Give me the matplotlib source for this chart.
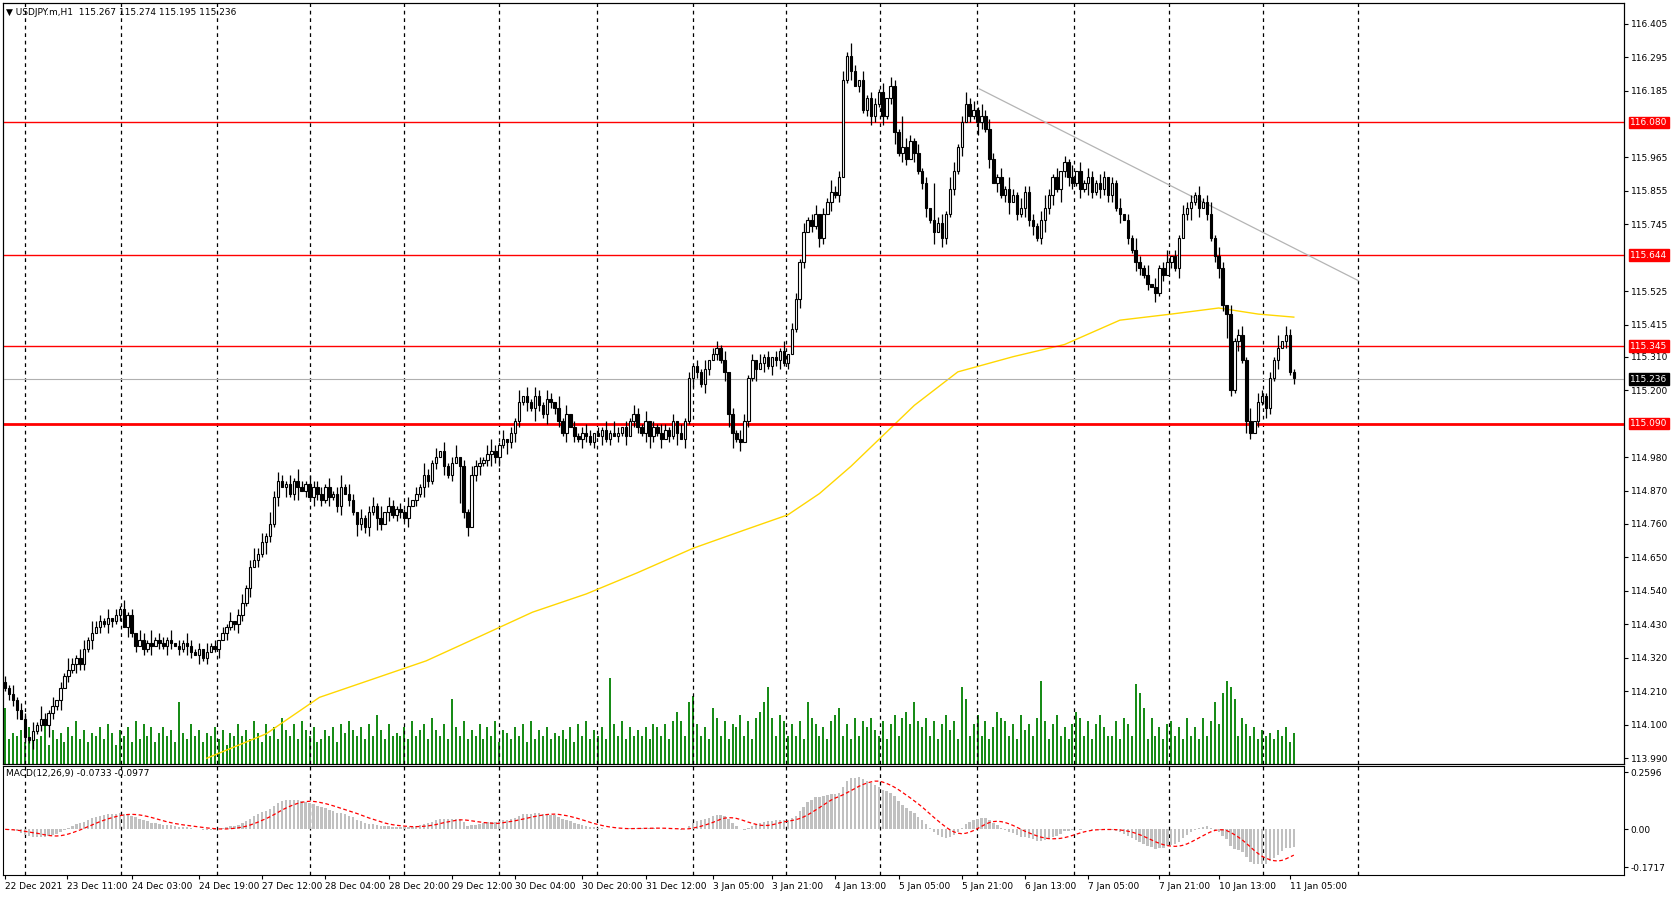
import numpy as np
import pandas as pd
import matplotlib
matplotlib.use("Agg")
import matplotlib.pyplot as plt
import matplotlib.transforms as mtrans

closes = [
114.22,114.20,114.18,114.15,114.12,114.06,114.05,114.08,114.10,114.12,114.10,114.14,114.16,114.18,114.22,114.26,114.28,114.30,114.32,114.30,
114.35,114.38,114.40,114.42,114.44,114.43,114.45,114.44,114.46,114.48,114.42,114.46,114.40,114.36,114.38,114.35,114.37,114.36,114.38,114.37,
114.36,114.38,114.37,114.36,114.35,114.37,114.36,114.34,114.33,114.35,114.32,114.34,114.36,114.35,114.38,114.40,114.42,114.44,114.43,114.46,
114.50,114.55,114.62,114.64,114.66,114.70,114.72,114.76,114.85,114.90,114.88,114.89,114.86,114.90,114.88,114.87,114.89,114.85,114.88,114.86,
114.84,114.88,114.85,114.86,114.82,114.88,114.86,114.84,114.80,114.76,114.78,114.75,114.80,114.82,114.78,114.76,114.80,114.82,114.79,114.81,
114.80,114.78,114.82,114.84,114.86,114.88,114.92,114.90,114.96,114.98,115.00,114.95,114.92,114.96,114.98,114.95,114.80,114.75,114.92,114.95,
114.96,114.97,114.99,115.00,114.98,115.02,115.04,115.03,115.06,115.10,115.16,115.18,115.16,115.14,115.18,115.15,115.12,115.17,115.16,115.14,
115.10,115.06,115.12,115.08,115.05,115.04,115.06,115.05,115.03,115.06,115.05,115.07,115.04,115.06,115.05,115.06,115.08,115.05,115.10,115.12,
115.08,115.06,115.10,115.05,115.08,115.06,115.04,115.07,115.05,115.10,115.06,115.04,115.10,115.24,115.28,115.26,115.22,115.27,115.30,115.32,
115.34,115.30,115.26,115.12,115.06,115.04,115.03,115.10,115.24,115.30,115.27,115.29,115.31,115.28,115.31,115.30,115.33,115.29,115.32,115.40,
115.50,115.62,115.72,115.76,115.74,115.78,115.70,115.78,115.82,115.85,115.84,115.90,116.22,116.30,116.25,116.20,116.22,116.12,116.16,116.10,
116.14,116.18,116.10,116.16,116.20,116.05,115.98,116.00,115.96,116.02,115.98,115.92,115.88,115.80,115.76,115.72,115.75,115.70,115.78,115.86,
115.92,116.00,116.08,116.14,116.10,116.12,116.08,116.10,116.06,115.96,115.88,115.90,115.84,115.86,115.82,115.84,115.78,115.80,115.85,115.76,
115.74,115.70,115.76,115.80,115.84,115.90,115.86,115.92,115.95,115.90,115.88,115.92,115.86,115.88,115.90,115.85,115.88,115.86,115.90,115.84,
115.88,115.80,115.78,115.76,115.70,115.66,115.62,115.60,115.58,115.55,115.54,115.52,115.60,115.58,115.62,115.64,115.60,115.70,115.78,115.80,
115.82,115.84,115.80,115.82,115.78,115.70,115.64,115.60,115.48,115.45,115.20,115.36,115.38,115.30,115.10,115.06,115.10,115.16,115.18,115.14,
115.24,115.30,115.34,115.36,115.38,115.26,115.24]
first_open = 114.24
# wick sizes in 0.01 units (base-36 digits)
up_wicks = ("21312203142130214213" "31422130213120321412" "21302132120312021302" "31242314232131421322"
            "21312413203123140321" "21302142130312402132" "21342130214031321320" "41302123202131420213"
            "21302132120312021302" "21302132120312021302" "21312302142231420312" "2130321a3213120c2314"
            "31242314232131421322" "21342130214031321320" "21302142130312402132" "21312413203123140321" "2140321")
down_wicks = ("12230213120421302132" "21302132120312021302" "13202132031201302123" "21302142130312402132"
              "21312302142231420312" "213021321203120c2302" "31242314232131421322" "21302132120312021302"
              "21342130214031321320" "21345130214031323120" "13202132031201302123" "21312413203123140321"
              "21302142130312402132" "31242314232131421322" "21302132120312021302" "41302123282131420213" "2130212")
volumes = ("i8a9b7ca89d6b8a7c9e8" "b7a9c8da6b9c7e8d9c7a" "c9b7ka8d9b7a9c8b6a9d" "9b8ea7d9c8fb9d8eb9c7"
           "8b9c7daeb9c8d9gb8d9a" "9c8e9bd8fb9d8lc9e8b9" "d8c9e7ba8c9d7e8b9c8a" "9b8c7d9e8b9c8sd9e8c9"
           "b9c8dc9d8ehe9kmd9c8i" "f9e8dcg9e8fhkpf9ge9d" "9e8kfd9c8egi9d8f9ecf" "b9e8dg9fhdkecf9e8dgb"
           "e8pl9dg9e8chfe9d8gbd" "9fre8dg9c8dhf9e8dgc9" "9e8fd9qni8f9c8de9c8f" "9c8f9ekdnrpl9fd9c8b9" "a8b9c7a")

ma_bars = [51, 66, 79.5, 93, 106.5, 120, 133.4, 147, 160, 174, 187, 198, 206, 214, 222, 230, 241, 255,
           268, 282, 295, 307, 317, 326]
ma_vals = [113.99, 114.07, 114.19, 114.25, 114.31, 114.39, 114.47, 114.53, 114.60, 114.68, 114.74, 114.79,
           114.86, 114.95, 115.05, 115.15, 115.26, 115.31, 115.35, 115.43, 115.45, 115.47, 115.45, 115.44]

hlines = [116.080, 115.644, 115.345, 115.090]
current = 115.236
trend_bars = [246.5, 342.3]
trend_vals = [116.19, 115.56]

ytick_vals = [116.405, 116.295, 116.185, 115.965, 115.855, 115.745, 115.525, 115.415, 115.310, 115.200,
              114.980, 114.870, 114.760, 114.650, 114.540, 114.430, 114.320, 114.210, 114.100, 113.990]
xlabels = ["22 Dec 2021", "23 Dec 11:00", "24 Dec 03:00", "24 Dec 19:00", "27 Dec 12:00", "28 Dec 04:00",
           "28 Dec 20:00", "29 Dec 12:00", "30 Dec 04:00", "30 Dec 20:00", "31 Dec 12:00", "3 Jan 05:00",
           "3 Jan 21:00", "4 Jan 13:00", "5 Jan 05:00", "5 Jan 21:00", "6 Jan 13:00", "7 Jan 05:00",
           "7 Jan 21:00", "10 Jan 13:00", "11 Jan 05:00"]
xlabel_pos = [0, 15.6, 32, 49, 65, 81, 97, 113, 129, 146, 162, 179, 194, 210, 226, 242, 258, 274, 292, 307, 325]
grid_pos = [4.9, 29.4, 53.6, 77.1, 100.8, 124.8, 149.6, 173.9, 197.6, 221.3, 245.8, 270.3, 294.3, 318.3, 342.3]

n = len(closes)
c = np.array(closes)
o = np.concatenate([[first_open], c[:-1]])
uw = np.array([int(ch, 36) for ch in up_wicks[:n]]) * 0.01
dw = np.array([int(ch, 36) for ch in down_wicks[:n]]) * 0.01
vol = np.array([int(ch, 36) for ch in volumes[:n]], dtype=float)
hi = np.maximum(o, c) + uw
lo = np.minimum(o, c) - dw
x = np.arange(n)

W, H = 1567, 841
fig = plt.figure(figsize=(16.73, 8.97), dpi=100)
ax = fig.add_axes([3/W, 1-716/H, 1518/W, 713/H])
axm = fig.add_axes([3/W, 1-820/H, 1518/W, 102/H])
fs = 6.5

xl = (-0.5, 409.5)
ax.set_xlim(*xl)
ax.set_ylim(113.972, 116.472)

axv = ax.twinx()
axv.set_ylim(0, 27 * 713 / 80 * 1.03)
axv.vlines(x, 0, vol, color="#008000", lw=1.3)
axv.set_yticks([])
axv.set_xlim(*xl)
ax.set_zorder(axv.get_zorder() + 1)
ax.patch.set_visible(False)
axv.patch.set_facecolor("white")

for g in grid_pos:
    ax.axvline(g, color="black", lw=0.9, ls=(0, (3, 3)), zorder=1)
    axm.axvline(g, color="black", lw=0.9, ls=(0, (3, 3)), zorder=1)

ax.plot(ma_bars, ma_vals, color="#ffd700", lw=1.0, zorder=2)
for i, h in enumerate(hlines):
    ax.axhline(h, color="red", lw=2.0 if i == 3 else 1.0, zorder=2)
ax.axhline(current, color="#b0b0b0", lw=0.8, zorder=2)
ax.plot(trend_bars, trend_vals, color="#b4b4b4", lw=0.9, zorder=2)

ax.vlines(x, lo, hi, color="black", lw=0.9, zorder=3)
up = c >= o
body_h = np.abs(c - o)
body_h = np.where(body_h < 0.004, 0.004, body_h)
ax.bar(x, body_h, bottom=np.minimum(o, c), width=0.62,
       color=np.where(up, "white", "black"), edgecolor="black", linewidth=0.8, zorder=4)

ax.yaxis.tick_right()
ax.set_yticks(ytick_vals)
ax.set_yticklabels([f"{v:.3f}" for v in ytick_vals], fontsize=fs)
ax.tick_params(axis="y", length=3, pad=2)
ax.set_xticks([])
tr = mtrans.blended_transform_factory(ax.transAxes, ax.transData)
for i, h in enumerate(hlines):
    ax.text(1.004, h, f"{h:.3f}", transform=tr, fontsize=fs, color="white", va="center", ha="left",
            bbox=dict(boxstyle="square,pad=0.15", fc="red", ec="red"), zorder=10, clip_on=False)
ax.text(1.004, current, f"{current:.3f}", transform=tr, fontsize=fs, color="white", va="center", ha="left",
        bbox=dict(boxstyle="square,pad=0.15", fc="black", ec="black"), zorder=10, clip_on=False)
ax.text(0.002, 0.994, "\u25bc USDJPY.m,H1  115.267 115.274 115.195 115.236", transform=ax.transAxes,
        fontsize=fs, va="top", ha="left")

s = pd.Series(c)
macd = s.ewm(span=12, adjust=False).mean() - s.ewm(span=26, adjust=False).mean()
sig = macd.rolling(9, min_periods=1).mean()
axm.bar(x, macd.values, width=0.6, color="#c0c0c0", zorder=2)
axm.plot(x, sig.values, color="red", lw=0.9, ls=(0, (3, 2)), zorder=3)
axm.set_xlim(*xl)
axm.set_ylim(-0.2056, 0.2887)
axm.yaxis.tick_right()
axm.set_yticks([0.2596, 0.0, -0.1717])
axm.set_yticklabels(["0.2596", "0.00", "-0.1717"], fontsize=fs)
axm.tick_params(axis="y", length=3, pad=2)
axm.set_xticks(xlabel_pos)
axm.set_xticklabels(xlabels, fontsize=fs, ha="left")
axm.tick_params(axis="x", length=3, pad=2)
axm.text(0.002, 0.97, "MACD(12,26,9) -0.0733 -0.0977", transform=axm.transAxes, fontsize=fs, va="top", ha="left")

fig.savefig("out.png", dpi=100, facecolor="white")
